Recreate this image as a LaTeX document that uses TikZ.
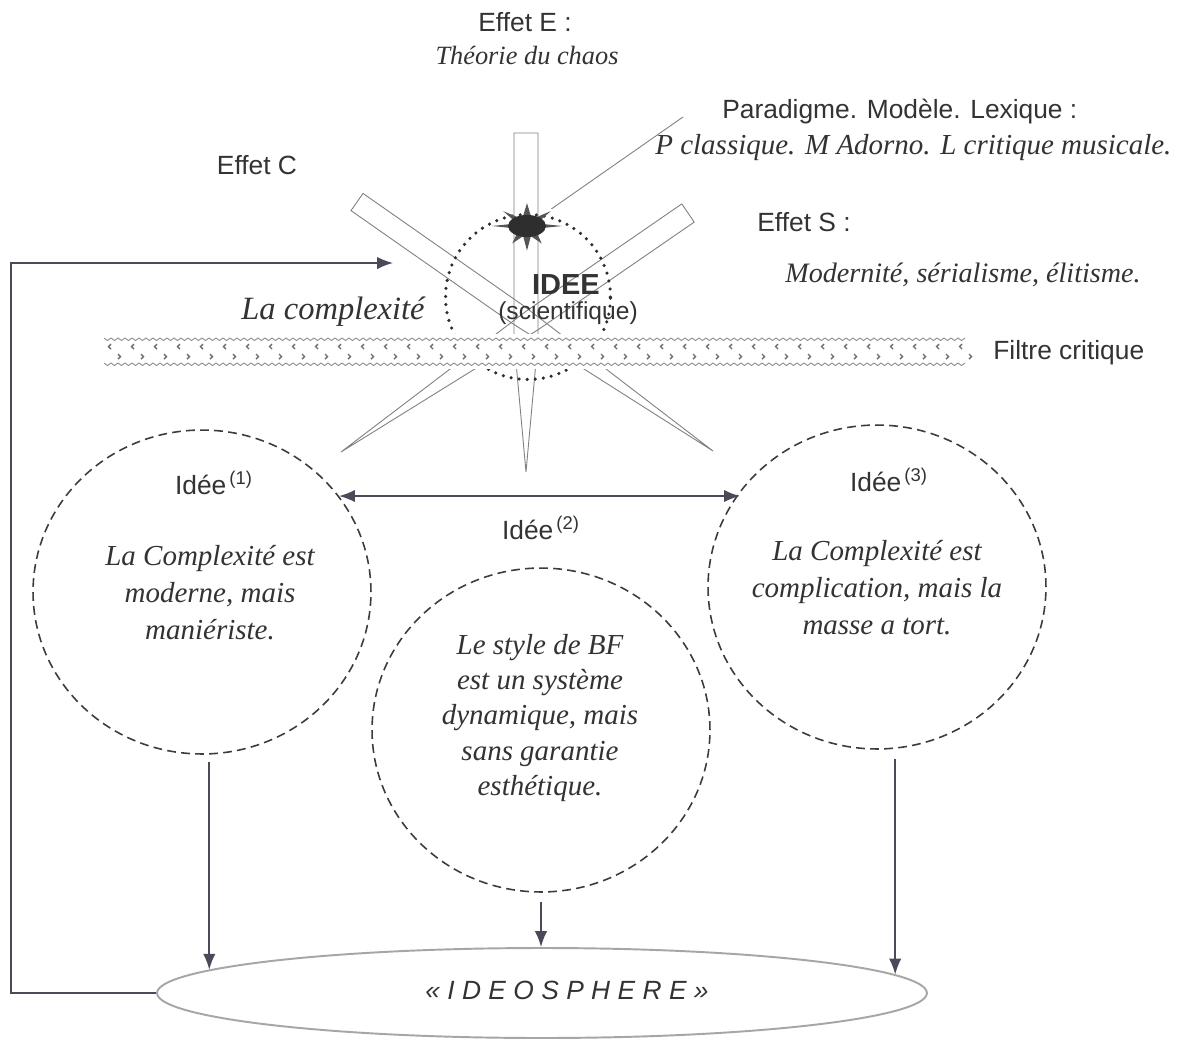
\documentclass[tikz,border=0pt]{standalone}
\usepackage{fontspec}
\setmainfont{Liberation Serif}
\setsansfont{Liberation Sans}
\usetikzlibrary{shapes.geometric,arrows.meta,calc}

\definecolor{txtc}{HTML}{333333}
\definecolor{circc}{HTML}{3C3C3C}
\definecolor{arrc}{HTML}{4A4A58}
\definecolor{needc}{HTML}{808080}
\definecolor{filtc}{HTML}{6E6E6E}
\definecolor{starc}{HTML}{555555}
\definecolor{corec}{HTML}{2E2E2E}

\newcommand\ltrsp{\kern4.2pt}

\tikzset{
  sanslbl/.style={font=\sffamily\fontsize{15}{17}\selectfont, text=txtc},
  serlbl/.style={font=\itshape\fontsize{16.5}{21}\selectfont, text=txtc, align=center},
  idcirc/.style={ellipse, draw=circc, line width=0.9pt, dash pattern=on 5pt off 3pt,
    minimum width=6.76cm, minimum height=6.48cm},
  needle/.style={draw=needc, line width=0.5pt},
  filt/.style={draw=filtc, line width=0.8pt},
  filtz/.style={draw=filtc!80, line width=0.5pt},
  arr/.style={draw=arrc, line width=0.9pt, -{Latex[length=9pt,width=7pt]}},
  darr/.style={draw=arrc, line width=0.9pt, {Latex[length=9pt,width=7pt]}-{Latex[length=9pt,width=7pt]}},
}

\begin{document}
\begin{tikzpicture}[x=0.02cm, y=-0.02cm]
    \fill[white] (0,0) rectangle (1181,1042);
    \useasboundingbox (0,0) rectangle (1181,1042);
    % the three needles
    \draw[needle] (514,133) -- (538,133) -- (538,340) -- (526,472) -- (514,340) -- cycle;
    \draw[needle] (363,193.4) -- (523.2,305.5) -- (713,451) -- (511.2,322.7) -- (351,210.6) -- cycle;
    \draw[needle] (681.8,203.9) -- (525.7,311.5) -- (341,452) -- (538.1,329.7) -- (694.2,222.1) -- cycle;
    \coordinate (S) at (527,226);
    \coordinate (PL) at (683,117);
    \draw[needle] (PL) -- ($(S)+(35:17pt)$);
    \node[draw=corec, circle, minimum size=3.3cm, line width=2pt,
      dash pattern=on 0pt off 4.6pt, line cap=round] (halo) at (528,297) {};
    \foreach \a/\r/\h in {90/13pt/22,270/14pt/22,0/20pt/14,180/20pt/14,32/16pt/16,148/16pt/16,230/13pt/20,310/13pt/20}
      \fill[starc] ($(S)+(\a-\h:6pt)$) -- ($(S)+(\a:\r)$) -- ($(S)+(\a+\h:6pt)$) -- cycle;
    \fill[corec] (S) ellipse [x radius=10.8pt, y radius=6.3pt];
    % labels of the top part
    \node[sanslbl] (effE) at (525,22) {Effet E :};
    \node[font=\itshape\fontsize{15}{18}\selectfont, text=txtc] (chaos) at (527,55) {Théorie du chaos};
    \node[sanslbl, anchor=west, inner sep=0] (parad) at (722,112) {Paradigme. Modèle. Lexique :};
    \node[serlbl, anchor=west, inner sep=0] (pml) at (655,148) {P classique. M Adorno. L critique musicale.};
    \node[sanslbl] (effC) at (257,165) {Effet C};
    \node[sanslbl, anchor=west, inner sep=0] (effS) at (757,222) {Effet S :};
    \node[font=\itshape\fontsize{16}{19}\selectfont, text=txtc, anchor=west, inner sep=0] (mse) at (785,275) {Modernité, sérialisme, élitisme.};
    \node[font=\itshape\fontsize{18.5}{21}\selectfont, text=txtc, anchor=east, inner sep=0] (lacx) at (425,312) {La complexité};
    \node[font=\sffamily\bfseries\fontsize{16.5}{18}\selectfont, text=txtc] (idee) at (566,285) {IDEE};
    \node[font=\sffamily\fontsize{14}{16}\selectfont, text=txtc] (scien) at (568,313) {(scientifique)};
    % filter
    \fill[white] (103,334) rectangle (970,369);
    \draw[filtz] (104,338) \foreach \i in {1,...,123} { -- ++(3.5,2.5) -- ++(3.5,-2.5) };
    \draw[filtz] (104,363) \foreach \i in {1,...,123} { -- ++(3.5,2.5) -- ++(3.5,-2.5) };
    \foreach \x in {106,129,...,960} {
      \draw[filt] (\x+5,344) -- ++(-2.5,2.5) -- ++(2.5,2.5);
      \draw[filt] (\x+12,354) -- ++(2.5,2.5) -- ++(-2.5,2.5);
    }
    \node[sanslbl, anchor=west, inner sep=0] (filtre) at (993,353) {Filtre critique};
    % the three ideas
    \node[idcirc] (c1) at (202,592) {};
    \node[idcirc] (c2) at (541,730) {};
    \node[idcirc] (c3) at (877,587) {};
    \node[sanslbl] (l1) at (214,483) {Idée\textsuperscript{\,(1)}};
    \node[sanslbl] (l2) at (541,528) {Idée\textsuperscript{\,(2)}};
    \node[sanslbl] (l3) at (889,480) {Idée\textsuperscript{\,(3)}};
    \node[serlbl] (t1) at (210,593) {La Complexité est\\moderne, mais\\maniériste.};
    \node[serlbl, font=\itshape\fontsize{16.5}{20}\selectfont] (t2) at (540,718) {Le style de BF\\est un système\\dynamique, mais\\sans garantie\\esthétique.};
    \node[serlbl] (t3) at (877,588) {La Complexité est\\complication, mais la\\masse a tort.};
    \draw[darr] (c1.35) -- (c1.35 -| c3.145);
    % ideosphere
    \node[ellipse, draw=gray!70, line width=1.1pt, minimum width=15.4cm, minimum height=1.8cm] (ideo) at (542,993) {};
    \node[font=\sffamily\itshape\fontsize{15}{17}\selectfont, text=txtc] (ideot) at (567,990)
      {«\ltrsp I\ltrsp D\ltrsp E\ltrsp O\ltrsp S\ltrsp P\ltrsp H\ltrsp E\ltrsp R\ltrsp E\ltrsp »};
    \draw[arr, shorten <=4pt] (ideo.176.3 |- c1.south) -- (ideo.176.3);
    \draw[arr, shorten <=5pt] (c2.south) -- (c2.south |- ideo.north);
    \draw[arr, shorten <=5pt] (ideo.3.7 |- c3.south) -- (ideo.3.7);
    \coordinate (fb) at (393,263);
    \draw[arr] (ideo.west) -- ++(-145,0) |- (fb);
\end{tikzpicture}
\end{document}
